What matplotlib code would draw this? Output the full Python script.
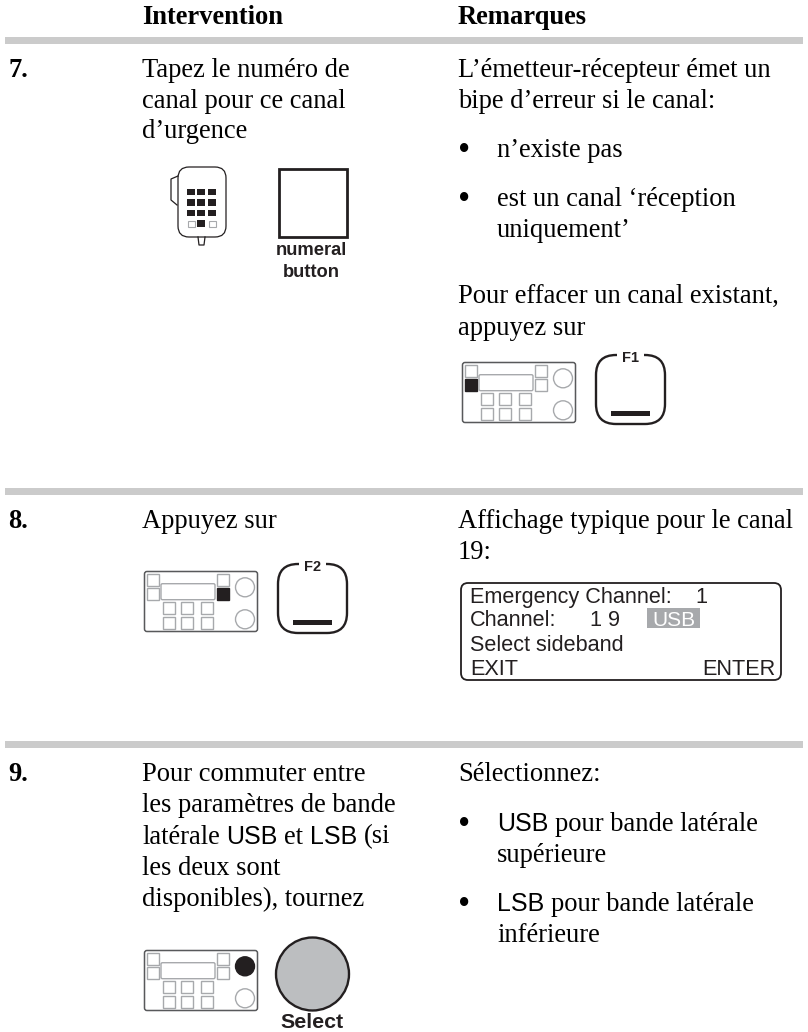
import matplotlib
matplotlib.use('Agg')
import matplotlib.pyplot as plt
from matplotlib.patches import Rectangle, Circle, FancyBboxPatch, PathPatch
from matplotlib.path import Path

SERIF = 'Liberation Serif'
SANS = 'Liberation Sans'
DARK = '#231f20'
LIGHT = '#a7a9ac'
RULE = '#cbcbcb'
BODY = 19.1

# page text
headers = ['Intervention', 'Remarques']
steps = ['7.', '8.', '9.']
step7_left = ['Tapez le numéro de', 'canal pour ce canal', 'd’urgence']
step7_right = ['L’émetteur-récepteur émet un', 'bipe d’erreur si le canal:']
step7_bullets = [['n’existe pas'], ['est un canal ‘réception', 'uniquement’']]
step7_clear = ['Pour effacer un canal existant,', 'appuyez sur']
step8_left = ['Appuyez sur']
step8_right = ['Affichage typique pour le canal', '19:']
step9_left = [[('Pour commuter entre', SERIF)],
              [('les paramètres de bande', SERIF)],
              [('latérale ', SERIF), ('USB', SANS), (' et ', SERIF), ('LSB', SANS), (' (si', SERIF)],
              [('les deux sont', SERIF)],
              [('disponibles), tournez', SERIF)]]
step9_right = ['Sélectionnez:']
step9_bullets = [[('USB', SANS), (' pour bande latérale', SERIF)],
                 [('LSB', SANS), (' pour bande latérale', SERIF)]]
step9_bullets2 = ['supérieure', 'inférieure']
display_lines = ['Emergency Channel:', 'Channel:', 'Select sideband', 'EXIT']

fig = plt.figure(figsize=(8.08, 10.32), dpi=100)
ax = fig.add_axes([0, 0, 1, 1])
ax.set_xlim(0, 808)
ax.set_ylim(1032, 0)
ax.axis('off')


def txt(x, y, s, size=BODY, family=SERIF, **kw):
    return ax.text(x, y, s, fontsize=size, family=family, color=kw.pop('color', 'black'),
                   va='baseline', **kw)


def block(x, y, lines, step=31.0):
    for i, s in enumerate(lines):
        txt(x, y + i * step, s)


def runs(x, y, parts):
    # mixed serif / sans line, measure each piece to place the next
    r = fig.canvas.get_renderer()
    for s, fam in parts:
        size = BODY if fam == SERIF else 18
        lead = len(s) - len(s.lstrip())
        trail = len(s) - len(s.rstrip())
        x += lead * 6.6
        t = txt(x, y, s.strip(), size=size, family=fam)
        x += t.get_window_extent(r).width + trail * 6.6


def rect(x0, y0, x1, y1, fc='white', ec=LIGHT, lw=1.0):
    ax.add_patch(Rectangle((x0, y0), x1 - x0, y1 - y0, fc=fc, ec=ec, lw=lw))


def panel(left, top, active=None):
    ax.add_patch(FancyBboxPatch((left + 0.5, top + 0.5), 113, 60, boxstyle='round,pad=0,rounding_size=2.5',
                                fc='white', ec='#58595b', lw=1.1))
    squares = {'tl': (3, 3.3), 'ml': (3, 17.3), 'tr': (73.3, 3.3), 'mr': (73.3, 17.3)}
    for key, (dx, dy) in squares.items():
        on = key == active
        rect(left + dx, top + dy, left + dx + 12, top + dy + 12, fc=DARK if on else 'white',
             ec=DARK if on else LIGHT)
    ax.add_patch(FancyBboxPatch((left + 17, top + 12.7), 54, 16, boxstyle='round,pad=0,rounding_size=1.5',
                                fc='white', ec=LIGHT, lw=1.0))
    for dx in (19, 37.3, 57.3):
        for dy in (31.3, 46.3):
            rect(left + dx, top + dy, left + dx + 12, top + dy + 12)
    on = active == 'knob'
    ax.add_patch(Circle((left + 101, top + 16.3), 9.5, fc=DARK if on else 'white', ec=DARK if on else LIGHT, lw=1.0))
    ax.add_patch(Circle((left + 101, top + 48.3), 9.5, fc='white', ec=LIGHT, lw=1.0))


def fkey(x0, top, label):
    x1, bot, r = x0 + 69, top + 69, 20
    mid = (x0 + x1) / 2
    gap = 13.5
    verts = [(mid - gap, top), (x0 + r, top), (x0, top), (x0, top + r), (x0, bot - r), (x0, bot), (x0 + r, bot),
             (x1 - r, bot), (x1, bot), (x1, bot - r), (x1, top + r), (x1, top), (x1 - r, top), (mid + gap, top)]
    codes = [Path.MOVETO, Path.LINETO, Path.CURVE3, Path.CURVE3, Path.LINETO, Path.CURVE3, Path.CURVE3,
             Path.LINETO, Path.CURVE3, Path.CURVE3, Path.LINETO, Path.CURVE3, Path.CURVE3, Path.LINETO]
    ax.add_patch(PathPatch(Path(verts, codes), fc='none', ec=DARK, lw=1.7))
    rect(mid - 19.5, bot - 13, mid + 19.5, bot - 8, fc=DARK, ec=DARK, lw=0)
    txt(mid, top + 7, label, size=10.5, family=SANS, weight='bold', ha='center', color=DARK)


def mic():
    ax.plot([178, 171, 171, 177], [176, 179, 200, 205], color=DARK, lw=0.9)
    ax.plot([198, 199, 204, 205], [237, 245, 245, 237], color=DARK, lw=0.9)
    ax.add_patch(FancyBboxPatch((178, 167), 48, 70, boxstyle='round,pad=0,rounding_size=11',
                                fc='white', ec=DARK, lw=0.9))
    for y0 in (188.5, 199, 209.5):
        for x0 in (187, 197, 208):
            rect(x0, y0, x0 + 8, y0 + 6.5, fc=DARK, ec=DARK, lw=0)
    rect(187.5, 220.5, 194.5, 226.5, ec=LIGHT, lw=0.8)
    rect(197, 220, 205, 226.5, fc=DARK, ec=DARK, lw=0)
    rect(208.5, 220.5, 215.5, 226.5, ec=LIGHT, lw=0.8)


def bullet(y):
    txt(464, y + 3, '•', size=25, ha='center')


# grey rules
for y0, y1 in [(37, 44), (488, 495), (741, 748)]:
    ax.add_patch(Rectangle((5, y0), 798, y1 - y0, fc=RULE, ec='none'))

# column headers
txt(142, 24, headers[0], weight='bold')
txt(458, 24, headers[1], weight='bold')

# step 7
txt(8, 77, steps[0], weight='bold')
block(142, 77, step7_left, step=30.6)
block(458, 77, step7_right)
bullet(157)
block(497, 157, step7_bullets[0])
bullet(206)
block(497, 206, step7_bullets[1])
block(458, 303, step7_clear, step=32)
mic()
rect(279, 169, 347, 237, ec=DARK, lw=2.0)
txt(311, 255, 'numeral', size=13.2, family=SANS, weight='bold', ha='center', color=DARK)
txt(311, 277, 'button', size=13.2, family=SANS, weight='bold', ha='center', color=DARK)
panel(462, 362, 'ml')
fkey(596, 355, 'F1')

# step 8
txt(8, 528, steps[1], weight='bold')
block(142, 528, step8_left)
block(458, 528, step8_right)
panel(144, 571, 'mr')
fkey(278, 564, 'F2')

ax.add_patch(FancyBboxPatch((461, 583), 320, 97, boxstyle='round,pad=0,rounding_size=7', fc='none', ec=DARK, lw=1.3))
rect(647, 608, 700, 628, fc='#a7a9ac', ec='none', lw=0)
ys = [603, 626, 651, 675]
for s, y in zip(display_lines, ys):
    txt(470, y, s, size=15.6, family=SANS, color=DARK)
txt(695, 603, '1', size=15.6, family=SANS, color=DARK)
txt(590, 626, '1 9', size=15.6, family=SANS, color=DARK)
txt(652, 626, 'USB', size=15, family=SANS, color='white')
txt(775, 675, 'ENTER', size=15.6, family=SANS, color=DARK, ha='right')

# step 9
txt(8, 781, steps[2], weight='bold')
for i, parts in enumerate(step9_left):
    runs(142, 781 + i * 31.3, parts)
block(458, 781, step9_right)
bullet(831)
runs(497, 831, step9_bullets[0])
txt(497, 862, step9_bullets2[0])
bullet(911)
runs(497, 911, step9_bullets[1])
txt(497, 942, step9_bullets2[1])
panel(144, 950, 'knob')
ax.add_patch(Circle((312.5, 974), 36.5, fc='#bcbec0', ec=DARK, lw=1.7))
txt(312, 1028, 'Select', size=15.4, family=SANS, weight='bold', ha='center', color=DARK)

fig.savefig('out.png', dpi=100)
